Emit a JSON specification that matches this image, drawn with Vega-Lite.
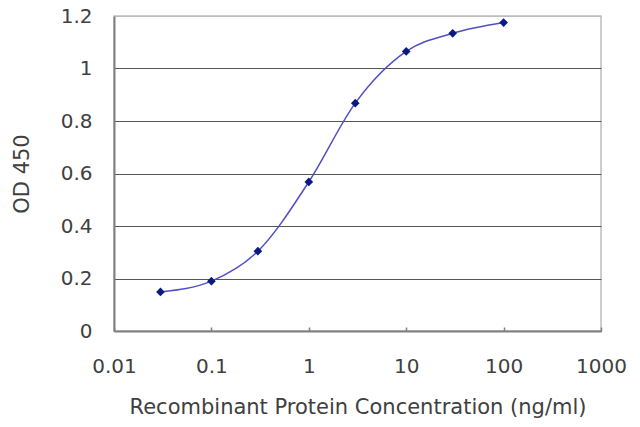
{
  "$schema": "https://vega.github.io/schema/vega-lite/v6.json",
  "autosize": {"type": "none"},
  "padding": {"left": 114, "top": 16, "right": 39, "bottom": 96},
  "width": 487,
  "height": 315,
  "background": "white",
  "config": {
    "view": {"stroke": "#bdbdbd", "strokeWidth": 1.5},
    "font": "DejaVu Sans",
    "axis": {
      "labelFont": "DejaVu Sans",
      "titleFont": "DejaVu Sans",
      "labelFontSize": 20,
      "titleFontSize": 21,
      "titleFontWeight": "normal",
      "labelColor": "#404040",
      "titleColor": "#404040",
      "domainColor": "#808080",
      "domainWidth": 2,
      "tickColor": "#808080",
      "tickWidth": 1.5,
      "gridColor": "#555555",
      "gridWidth": 1.2,
      "gridOpacity": 1,
      "labelFlush": false
    }
  },
  "data": {
    "values": [
      {"conc": 0.03, "od": 0.149},
      {"conc": 0.1, "od": 0.19},
      {"conc": 0.3, "od": 0.304},
      {"conc": 1, "od": 0.568},
      {"conc": 3, "od": 0.868},
      {"conc": 10, "od": 1.065},
      {"conc": 30, "od": 1.134},
      {"conc": 100, "od": 1.175}
    ]
  },
  "encoding": {
    "x": {
      "field": "conc",
      "type": "quantitative",
      "scale": {"type": "log", "domain": [0.01, 1000], "nice": false},
      "axis": {
        "title": "Recombinant Protein Concentration (ng/ml)",
        "values": [0.01, 0.1, 1, 10, 100, 1000],
        "format": "~g",
        "grid": false,
        "tickSize": -4,
        "labelFlush": false,
        "labelPadding": 29,
        "titlePadding": 20
      }
    },
    "y": {
      "field": "od",
      "type": "quantitative",
      "scale": {"domain": [0, 1.2], "nice": false},
      "axis": {
        "title": "OD 450",
        "values": [0, 0.2, 0.4, 0.6, 0.8, 1, 1.2],
        "format": "~g",
        "grid": true,
        "gridColor": {"condition": {"test": "datum.value == 1.2", "value": "#bdbdbd"}, "value": "#555555"},
        "ticks": false,
        "labelFlush": false,
        "labelPadding": 22,
        "titlePadding": 28
      }
    }
  },
  "layer": [
    {
      "mark": {"type": "line", "interpolate": "monotone", "color": "#5050c4", "strokeWidth": 1.5}
    },
    {
      "mark": {"type": "point", "shape": "diamond", "filled": true, "color": "#0a1a80", "size": 75, "opacity": 1}
    }
  ]
}
